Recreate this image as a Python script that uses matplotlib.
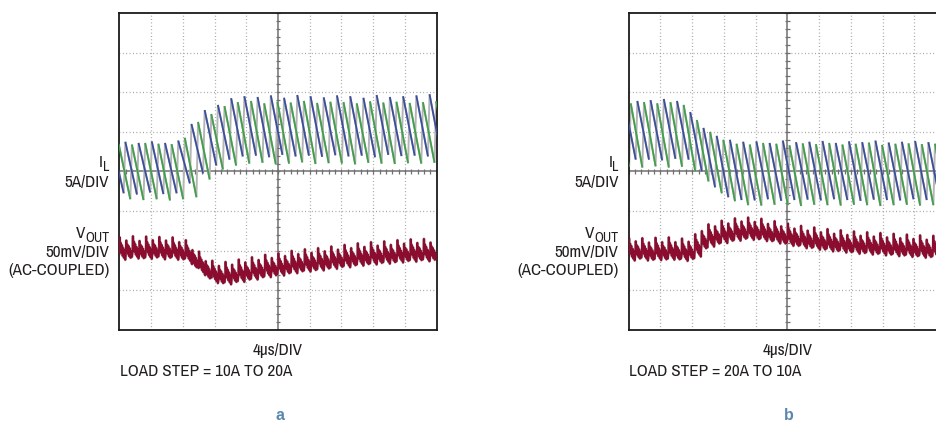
import numpy as np
import matplotlib
matplotlib.use("Agg")
import matplotlib.pyplot as plt
from matplotlib.collections import LineCollection
from matplotlib import font_manager as fm

# ---------------- data (screen divisions; time in microseconds) ----------------
switch_period_us = 1.667
rise_fraction = 0.12

# Panel a : load step 10A -> 20A
a_blue_first_peak_us = -0.91
a_blue_peak = [4.74, 4.75, 4.72, 4.76, 4.72, 4.78, 5.20, 5.55, 5.68, 5.85, 5.90, 5.88, 5.92,
               5.86, 5.93, 5.90, 5.87, 5.92, 5.90, 5.86, 5.93, 5.88, 5.90, 5.92, 5.95]
a_blue_trough = [3.45, 3.42, 3.47, 3.43, 3.45, 3.70, 3.95, 4.15, 4.30, 4.38, 4.40, 4.36, 4.42,
                 4.38, 4.40, 4.37, 4.41, 4.38, 4.40, 4.36, 4.42, 4.39, 4.40, 4.38, 4.40]
a_green_first_peak_us = -0.08
a_green_peak = [4.70, 4.68, 4.72, 4.70, 4.69, 4.85, 5.25, 5.45, 5.65, 5.75, 5.78, 5.72, 5.76,
                5.74, 5.78, 5.73, 5.76, 5.75, 5.72, 5.77, 5.74, 5.76, 5.73, 5.75, 5.77]
a_green_trough = [3.30, 3.28, 3.30, 3.27, 3.30, 3.35, 3.80, 4.05, 4.15, 4.20, 4.22, 4.18, 4.20,
                  4.23, 4.19, 4.21, 4.20, 4.18, 4.22, 4.20, 4.19, 4.21, 4.20, 4.22, 4.20]
# one value per half switching period
a_vout_center = [2.02, 2.04, 2.05, 2.03, 2.04, 2.05, 2.03, 2.04, 2.02, 2.00,
                 1.95, 1.80, 1.66, 1.52, 1.43, 1.40, 1.40, 1.43, 1.46, 1.49,
                 1.52, 1.55, 1.58, 1.60, 1.62, 1.65, 1.68, 1.70, 1.72, 1.73,
                 1.75, 1.77, 1.79, 1.81, 1.83, 1.85, 1.87, 1.88, 1.90, 1.91,
                 1.92, 1.93, 1.95, 1.96, 1.97, 1.98, 1.98, 1.99]

# Panel b : load step 20A -> 10A
b_blue_first_peak_us = -0.58
b_blue_peak = [5.80, 5.78, 5.80, 5.83, 5.78, 5.50, 5.10, 4.90, 4.80, 4.75, 4.76, 4.72, 4.78,
               4.74, 4.75, 4.77, 4.72, 4.76, 4.74, 4.78, 4.73, 4.75, 4.77, 4.74, 4.76]
b_blue_trough = [4.30, 4.30, 4.28, 4.32, 4.30, 4.00, 3.60, 3.35, 3.28, 3.27, 3.30, 3.26, 3.28,
                 3.29, 3.27, 3.30, 3.28, 3.26, 3.29, 3.28, 3.27, 3.30, 3.28, 3.27, 3.29]
b_green_first_peak_us = -1.41
b_green_peak = [5.72, 5.72, 5.75, 5.72, 5.75, 5.68, 5.30, 5.00, 4.80, 4.70, 4.68, 4.72, 4.70,
                4.66, 4.71, 4.69, 4.72, 4.68, 4.70, 4.73, 4.67, 4.70, 4.71, 4.69, 4.70]
b_green_trough = [4.12, 4.10, 4.13, 4.10, 4.12, 4.00, 3.75, 3.45, 3.25, 3.15, 3.14, 3.16, 3.15,
                  3.13, 3.16, 3.15, 3.14, 3.16, 3.15, 3.13, 3.15, 3.16, 3.14, 3.15, 3.15]
b_vout_center = [2.00, 2.02, 2.00, 1.99, 2.01, 2.00, 2.02, 2.00, 1.99, 2.01,
                 2.10, 2.28, 2.35, 2.40, 2.44, 2.47, 2.50, 2.52, 2.52, 2.51,
                 2.49, 2.46, 2.43, 2.40, 2.37, 2.34, 2.31, 2.29, 2.27, 2.25,
                 2.23, 2.21, 2.20, 2.18, 2.17, 2.16, 2.15, 2.14, 2.13, 2.12,
                 2.11, 2.10, 2.09, 2.08, 2.07, 2.06, 2.06, 2.05]

il_label = ("I", "L", "5A/DIV")
vout_label = ("V", "OUT", "50mV/DIV", "(AC-COUPLED)")
time_label = "4\u00b5s/DIV"
step_labels = ["LOAD STEP = 10A TO 20A", "LOAD STEP = 20A TO 10A"]
panel_letters = ["a", "b"]

# ---------------- styling ----------------
W, H = 937, 422
BLUE = "#3b4e9d"
GREEN = "#40a04a"
GRAY = "#b5b5b5"
MAROON = "#8b0c2e"
TXT = "#231f20"


def pick_condensed():
    best = None
    for f in fm.fontManager.ttflist:
        name = f.name
        cond = ("Narrow" in name or "Condensed" in name or
                str(f.stretch) in ("condensed", "semi-condensed", "extra-condensed"))
        if not cond:
            continue
        if "Serif" in name or "Mono" in name:
            continue
        if f.style != "normal":
            continue
        w = f.weight if isinstance(f.weight, int) else (700 if "bold" in str(f.weight) else 400)
        if w != 400:
            continue
        best = f.fname
        if "Narrow" in name:
            break
    return best


cond_file = pick_condensed()
if cond_file:
    FS = 12.3
    def FP(size):
        return fm.FontProperties(fname=cond_file, size=size)
else:
    FS = 10.6
    def FP(size):
        return fm.FontProperties(family=["Liberation Sans", "DejaVu Sans"], size=size)

# VOUT ripple templates (shape of a half switching cycle)
shape_f = [0.0, 0.06, 0.13, 0.22, 0.31, 0.40, 0.50, 0.60, 0.70, 0.80, 0.90]
shape_oA = [-0.10, 0.32, 0.02, 0.18, -0.08, 0.12, -0.15, 0.05, -0.20, 0.00, -0.25]
shape_oB = [-0.14, 0.22, -0.04, 0.12, -0.12, 0.08, -0.18, 0.02, -0.22, -0.04, -0.20]

fig = plt.figure(figsize=(W / 100, H / 100), dpi=100)
fig.patch.set_facecolor("white")


def px(x, y):
    return x / W, 1 - y / H


def make_axes(left_px):
    ax = fig.add_axes([left_px / W, (H - 330) / H, 317.4 / W, 317 / H])
    ax.set_xlim(0, 40)
    ax.set_ylim(0, 8)
    ax.set_xticks([])
    ax.set_yticks([])
    for s in ax.spines.values():
        s.set_linewidth(1.3)
        s.set_color("#1a1a1a")
    dot = (0, (0.7, 2.0))
    for i in range(1, 10):
        if i != 5:
            ax.axvline(i * 4, color="#9a9a9a", lw=0.9, ls=dot, zorder=1)
    for j in range(1, 8):
        if j != 4:
            ax.axhline(j, color="#9a9a9a", lw=0.9, ls=dot, zorder=1)
    ax.axvline(20, color="#707070", lw=1.1, zorder=1.5)
    ax.axhline(4, color="#707070", lw=1.1, zorder=1.5)
    segs = []
    for x in np.arange(0, 40.01, 0.8):
        segs.append([(x, 4 - 0.065), (x, 4 + 0.065)])
    for y in np.arange(0, 8.01, 0.2):
        segs.append([(20 - 0.3, y), (20 + 0.3, y)])
    ax.add_collection(LineCollection(segs, colors="#707070", linewidths=0.9, zorder=1.5))
    return ax


def draw_il(ax, first_peak, peaks, troughs, color):
    T = switch_period_us
    rise = rise_fraction * T
    pts = []
    fall = []
    for k, (p, tr) in enumerate(zip(peaks, troughs)):
        tp = first_peak + k * T
        pts += [(tp, p), (tp + T - rise, tr)]
        fall.append([(tp, p), (tp + T - rise, tr)])
    pts = np.array(pts)
    ax.plot(pts[:, 0], pts[:, 1], color=GRAY, lw=1.4, zorder=2, solid_joinstyle="miter")
    ax.add_collection(LineCollection(fall, colors=color, linewidths=1.3, zorder=3))


def draw_vout(ax, centers):
    h = switch_period_us / 2
    ts, ys = [], []
    for j, c in enumerate(centers):
        offs = shape_oA if j % 2 == 0 else shape_oB
        for f, o in zip(shape_f, offs):
            ts.append(j * h + f * h)
            ys.append(c + o)
    ax.plot(ts, ys, color="#b49ba2", lw=2.0, zorder=2)
    ax.plot(ts, ys, color=MAROON, lw=1.3, zorder=3)


def sub_label(xr, yb, main, sub):
    renderer = fig.canvas.get_renderer()
    t2 = fig.text(*px(xr, yb + 4), sub, ha="right", va="baseline",
                  fontproperties=FP(FS * 0.82), color=TXT)
    bb = t2.get_window_extent(renderer)
    fig.text(bb.x0 / W, 1 - yb / H, main, ha="right", va="baseline",
             fontproperties=FP(FS), color=TXT)


panels = [
    (119.3, a_blue_first_peak_us, a_blue_peak, a_blue_trough,
     a_green_first_peak_us, a_green_peak, a_green_trough, a_vout_center),
    (628.7, b_blue_first_peak_us, b_blue_peak, b_blue_trough,
     b_green_first_peak_us, b_green_peak, b_green_trough, b_vout_center),
]

for i, (left, bf, bp, bt, gf, gp, gt, vc) in enumerate(panels):
    ax = make_axes(left)
    draw_il(ax, bf, bp, bt, BLUE)
    draw_il(ax, gf, gp, gt, GREEN)
    draw_vout(ax, vc)

    xr = left - 10
    sub_label(xr, 167, il_label[0], il_label[1])
    fig.text(*px(xr, 187), il_label[2], ha="right", va="baseline", fontproperties=FP(FS), color=TXT)
    sub_label(xr, 238, vout_label[0], vout_label[1])
    fig.text(*px(xr, 257.5), vout_label[2], ha="right", va="baseline", fontproperties=FP(FS), color=TXT)
    fig.text(*px(xr, 275), vout_label[3], ha="right", va="baseline", fontproperties=FP(FS), color=TXT)

    cx = left + 158.7
    fig.text(*px(cx, 355), time_label, ha="center", va="baseline", fontproperties=FP(FS), color=TXT)
    fig.text(*px(left + 0.5, 376.5), step_labels[i], ha="left", va="baseline",
             fontproperties=FP(FS), color=TXT)
    fig.text(*px(cx + 1.5, 420), panel_letters[i], ha="center", va="baseline",
             fontsize=11.5, fontweight="bold", color="#5b87ad",
             family=["Liberation Sans", "DejaVu Sans"])

fig.savefig("out.png", dpi=100, facecolor="white")
